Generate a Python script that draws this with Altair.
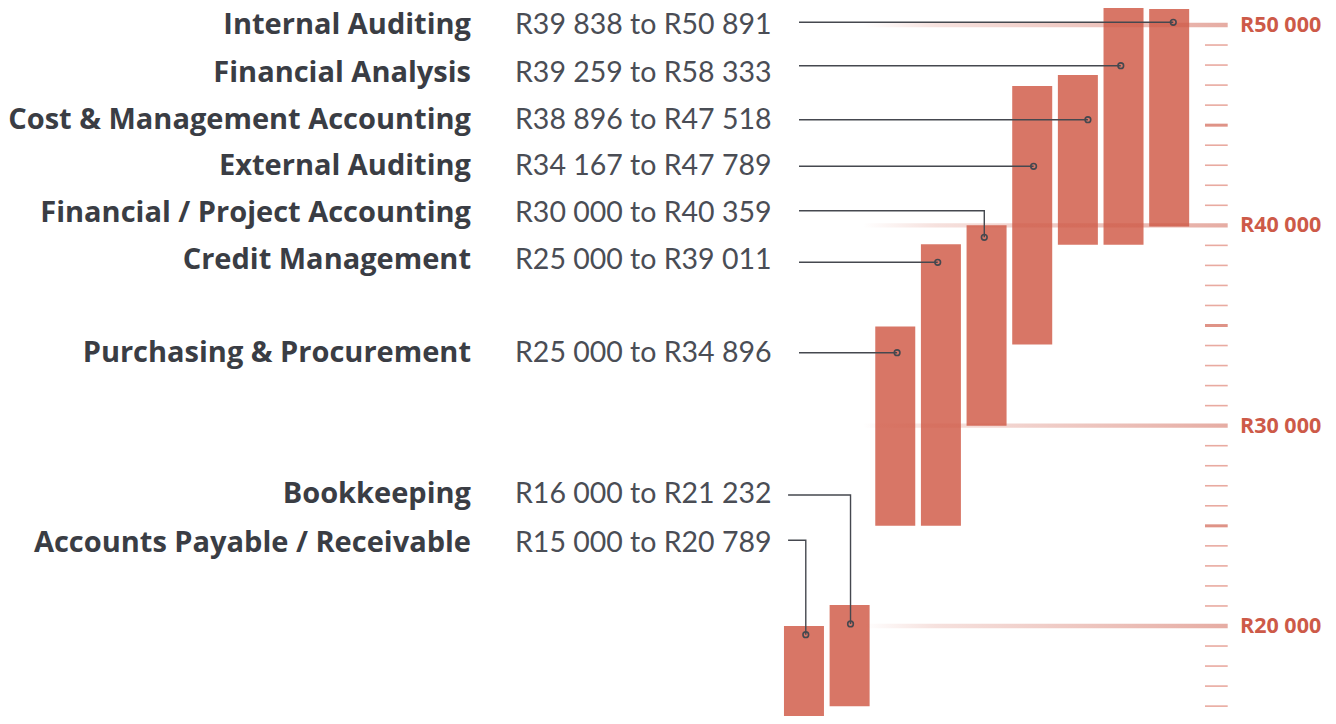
import altair as alt
import pandas as pd

# ---------------- data ----------------
categories = [
    "Accounts Payable / Receivable",
    "Bookkeeping",
    "Purchasing & Procurement",
    "Credit Management",
    "Financial / Project Accounting",
    "External Auditing",
    "Cost & Management Accounting",
    "Financial Analysis",
    "Internal Auditing",
]
range_labels = [
    "R15 000 to R20 789",
    "R16 000 to R21 232",
    "R25 000 to R34 896",
    "R25 000 to R39 011",
    "R30 000 to R40 359",
    "R34 167 to R47 789",
    "R38 896 to R47 518",
    "R39 259 to R58 333",
    "R39 838 to R50 891",
]
bar_low = [15000, 16000, 25000, 25000, 30000, 34050, 39030, 39030, 39940]
bar_high = [20000, 21050, 34950, 39050, 40000, 46950, 47500, 58333, 50800]
marker_value = [19566, 20100, 33642, 38155, 39403, 42947, 45273, 47968, 50135]
elbow_value = [24278, 26539, 33642, 38155, 40730, 42947, 45273, 47968, 50135]
marker_shift = [0.04, 0.02, 0.04, -0.07, -0.05, 0.03, 0.22, -0.06, 0.09]
axis_values = [20000, 30000, 40000, 50000]
axis_labels = ["R20 000", "R30 000", "R40 000", "R50 000"]

# ---------------- layout ----------------
W, H = 1320, 708
PX_PER_R = 0.0200333          # pixels per rand
Y_REF_PAGE = 25.0             # page y of R50 000
STEP, BAR_W, CENTER0 = 46, 40, 805   # bar step, width, first bar centre (page px)


def px_to_value(page_y):
    return 50000 - (page_y - Y_REF_PAGE) / PX_PER_R


def px_to_index(page_x):
    return (page_x - CENTER0) / STEP


Y_DOMAIN = [px_to_value(8 + H), px_to_value(8)]
X_DOMAIN = [px_to_index(8), px_to_index(8 + W)]

text_baseline_px = [551.7, 503.3, 362.3, 269.0, 221.7, 175.0, 129.2, 81.7, 34.3]
leader_start_px = [789, 789, 800, 800, 800, 800, 800, 800, 800]

BAR = "#d87666"
RED = "#cd5a48"
INK = "#3a3d44"
GREY = "#4a4d55"
LINE = "#45484f"

xs = alt.Scale(domain=X_DOMAIN, nice=False, zero=False)
ys = alt.Scale(domain=Y_DOMAIN, nice=False, zero=False)

idx = list(range(len(categories)))
bars_df = pd.DataFrame({"idx": idx, "low": bar_low, "high": bar_high, "cat": categories})

rows_df = pd.DataFrame({
    "cat": categories,
    "rng": range_labels,
    "ty": [px_to_value(p) for p in text_baseline_px],
})

lead_rows = []
for i, c in enumerate(categories):
    mx = i + marker_shift[i]
    lead_rows.append({"cat": c, "o": 0, "x": px_to_index(leader_start_px[i]), "y": elbow_value[i]})
    lead_rows.append({"cat": c, "o": 1, "x": mx, "y": elbow_value[i]})
    lead_rows.append({"cat": c, "o": 2, "x": mx, "y": marker_value[i]})
lead_df = pd.DataFrame(lead_rows)

dots_df = pd.DataFrame({
    "cat": categories,
    "mx": [i + marker_shift[i] for i in idx],
    "mv": marker_value,
})

grid_df = pd.DataFrame({"v": axis_values, "label": axis_labels})
minor_df = pd.DataFrame({"v": [v for v in range(16000, 52000, 1000) if v % 5000 != 0]})
major_df = pd.DataFrame({"v": [v for v in range(16000, 52000, 1000) if v % 5000 == 0 and v % 10000 != 0]})

bars = alt.Chart(bars_df).mark_bar(width=BAR_W, color=BAR).encode(
    x=alt.X("idx:Q", scale=xs, axis=None),
    y=alt.Y("low:Q", scale=ys, axis=None),
    y2="high:Q",
)

grad = alt.LinearGradient(
    gradient="linear",
    x1=0, x2=1, y1=0, y2=0,
    stops=[
        alt.GradientStop(color="rgba(205,90,72,0)", offset=0),
        alt.GradientStop(color="rgba(205,90,72,0.18)", offset=0.2),
        alt.GradientStop(color="rgba(205,90,72,0.5)", offset=1),
    ],
)
grid = alt.Chart(grid_df).mark_rect(fill=grad, yOffset=-2.2, y2Offset=2.2).encode(
    x=alt.value(855),
    x2=alt.value(1219.7),
    y=alt.Y("v:Q", scale=ys, axis=None),
    y2="v:Q",
)

minor = alt.Chart(minor_df).mark_rule(color="#e9aaa0", strokeWidth=1.6).encode(
    x=alt.value(1197), x2=alt.value(1219.7),
    y=alt.Y("v:Q", scale=ys, axis=None),
)
major = alt.Chart(major_df).mark_rule(color="#df9387", strokeWidth=3).encode(
    x=alt.value(1197), x2=alt.value(1219.7),
    y=alt.Y("v:Q", scale=ys, axis=None),
)

axis_text = alt.Chart(grid_df).mark_text(
    align="left", baseline="middle", dy=1, font="Open Sans", fontWeight="bold", fontSize=21.5, color=RED
).encode(
    x=alt.value(1232),
    y=alt.Y("v:Q", scale=ys, axis=None),
    text="label:N",
)

leaders = alt.Chart(lead_df).mark_line(color=LINE, strokeWidth=1.4).encode(
    x=alt.X("x:Q", scale=xs, axis=None),
    y=alt.Y("y:Q", scale=ys, axis=None),
    detail="cat:N",
    order="o:Q",
)

dots = alt.Chart(dots_df).mark_point(
    shape="circle", filled=False, size=32, stroke=LINE, strokeWidth=1.6, opacity=1
).encode(
    x=alt.X("mx:Q", scale=xs, axis=None),
    y=alt.Y("mv:Q", scale=ys, axis=None),
)

cat_text = alt.Chart(rows_df).mark_text(
    align="right", baseline="alphabetic", font="Open Sans", fontWeight="bold", fontSize=29, color=INK
).encode(
    x=alt.value(463),
    y=alt.Y("ty:Q", scale=ys, axis=None),
    text="cat:N",
)

rng_text = alt.Chart(rows_df).mark_text(
    align="left", baseline="alphabetic", font="Lato", fontWeight="normal", fontSize=28.5, color=GREY
).encode(
    x=alt.value(507),
    y=alt.Y("ty:Q", scale=ys, axis=None),
    text="rng:N",
)

chart = alt.layer(
    bars, grid, minor, major, axis_text, leaders, dots, cat_text, rng_text
).properties(
    width=W, height=H, padding=0, autosize=alt.AutoSizeParams(type="none"), background="white"
).configure_view(stroke=None)

chart.save("out.html", embed_options={"renderer": "svg", "actions": False})
